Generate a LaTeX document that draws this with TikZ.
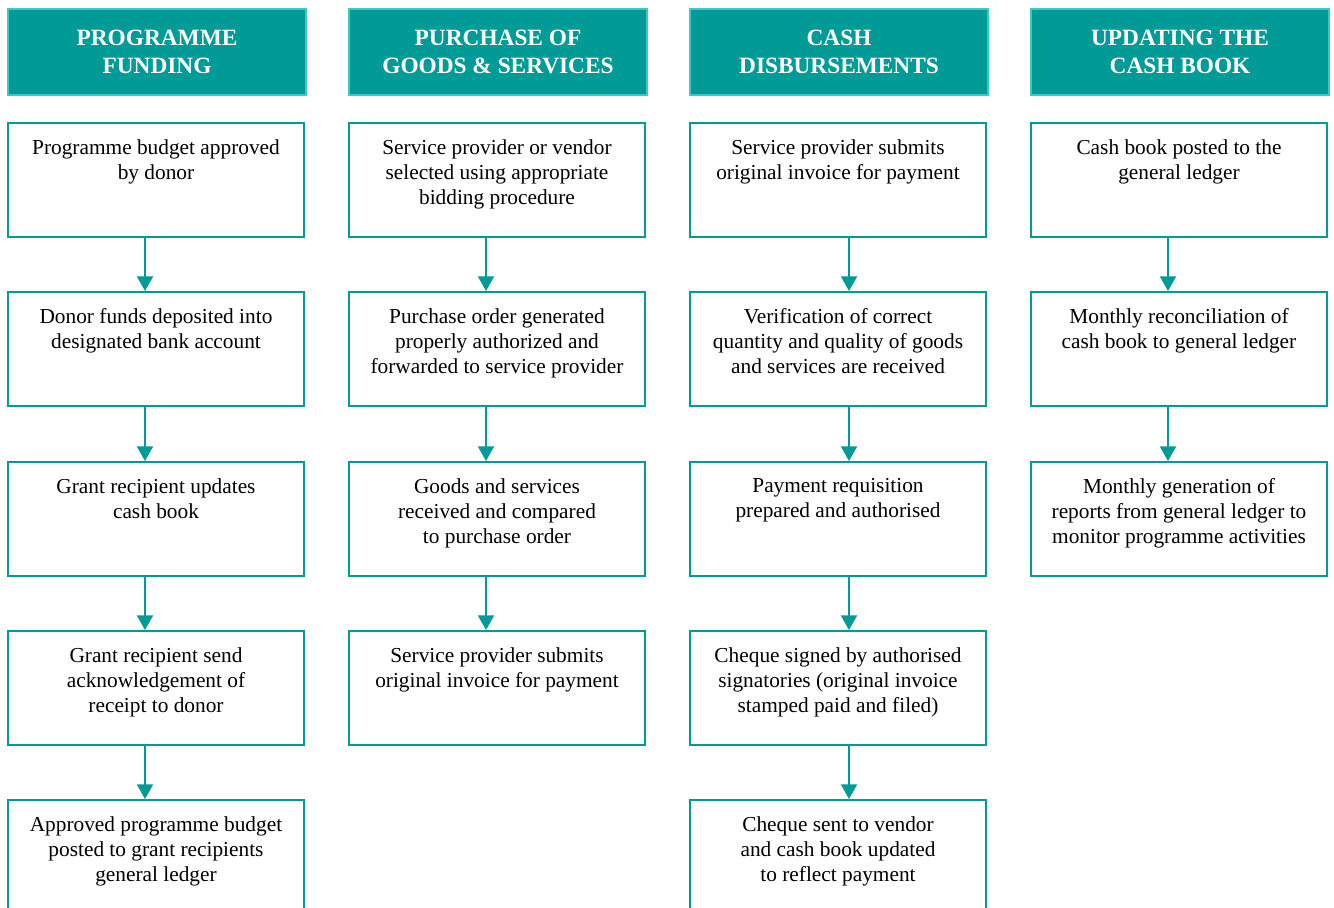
\documentclass[tikz,border=0pt]{standalone}
\usepackage{fontspec}
\setmainfont{Liberation Serif}
\usetikzlibrary{calc,arrows.meta}
\definecolor{flowteal}{HTML}{009A97}
\definecolor{headedge}{HTML}{3CC8C4}

\begin{document}
\begin{tikzpicture}[x=0.75pt,y=-0.75pt]
\tikzstyle{head}=[draw=headedge, fill=flowteal, line width=1pt, rectangle, minimum width=223.5pt, minimum height=64.5pt, align=center, text=white, font=\fontsize{17.5}{21}\selectfont\bfseries]
\tikzstyle{stepbox}=[draw=flowteal, fill=white, line width=1.5pt, rectangle, minimum width=222pt, minimum height=85.5pt, inner sep=0pt]
\tikzstyle{txt}=[below, align=center, inner sep=0pt, font=\fontsize{16}{18.75}\selectfont]
\tikzstyle{link}=[draw=flowteal, line width=1.5pt, -{Triangle[width=12pt,length=11pt]}]

\clip (0,0) rectangle (1334,907);

% column headers
\node[head] (hfund) at (157,52) {PROGRAMME\\FUNDING};
\node[head] (hbuy) at (498,52) {PURCHASE OF\\GOODS \& SERVICES};
\node[head] (hpay) at (839,52) {CASH\\DISBURSEMENTS};
\node[head] (hbook) at (1180,52) {UPDATING THE\\CASH BOOK};

% programme funding
\node[stepbox] (fund1) at (156,180) {};
\node[txt] (fund1t) at ($(fund1.north)+(0,17)$) {Programme budget approved\\by donor};
\node[stepbox] (fund2) at (156,349) {};
\node[txt] (fund2t) at ($(fund2.north)+(0,17)$) {Donor funds deposited into\\designated bank account};
\node[stepbox] (fund3) at (156,519) {};
\node[txt] (fund3t) at ($(fund3.north)+(0,17)$) {Grant recipient updates\\cash book};
\node[stepbox] (fund4) at (156,688) {};
\node[txt] (fund4t) at ($(fund4.north)+(0,17)$) {Grant recipient send\\acknowledgement of\\receipt to donor};
\node[stepbox] (fund5) at (156,857) {};
\node[txt] (fund5t) at ($(fund5.north)+(0,17)$) {Approved programme budget\\posted to grant recipients\\general ledger};

% purchase of goods and services
\node[stepbox] (buy1) at (497,180) {};
\node[txt] (buy1t) at ($(buy1.north)+(0,17)$) {Service provider or vendor\\selected using appropriate\\bidding procedure};
\node[stepbox] (buy2) at (497,349) {};
\node[txt] (buy2t) at ($(buy2.north)+(0,17)$) {Purchase order generated\\properly authorized and\\forwarded to service provider};
\node[stepbox] (buy3) at (497,519) {};
\node[txt] (buy3t) at ($(buy3.north)+(0,17)$) {Goods and services\\received and compared\\to purchase order};
\node[stepbox] (buy4) at (497,688) {};
\node[txt] (buy4t) at ($(buy4.north)+(0,17)$) {Service provider submits\\original invoice for payment};

% cash disbursements
\node[stepbox] (pay1) at (838,180) {};
\node[txt] (pay1t) at ($(pay1.north)+(0,17)$) {Service provider submits\\original invoice for payment};
\node[stepbox] (pay2) at (838,349) {};
\node[txt] (pay2t) at ($(pay2.north)+(0,17)$) {Verification of correct\\quantity and quality of goods\\and services are received};
\node[stepbox] (pay3) at (838,519) {};
\node[txt] (pay3t) at ($(pay3.north)+(0,17)$) {Payment requisition\\prepared and authorised};
\node[stepbox] (pay4) at (838,688) {};
\node[txt] (pay4t) at ($(pay4.north)+(0,17)$) {Cheque signed by authorised\\signatories (original invoice\\stamped paid and filed)};
\node[stepbox] (pay5) at (838,857) {};
\node[txt] (pay5t) at ($(pay5.north)+(0,17)$) {Cheque sent to vendor\\and cash book updated\\to reflect payment};

% updating the cash book
\node[stepbox] (book1) at (1179,180) {};
\node[txt] (book1t) at ($(book1.north)+(0,17)$) {Cash book posted to the\\general ledger};
\node[stepbox] (book2) at (1179,349) {};
\node[txt] (book2t) at ($(book2.north)+(0,17)$) {Monthly reconciliation of\\cash book to general ledger};
\node[stepbox] (book3) at (1179,519) {};
\node[txt] (book3t) at ($(book3.north)+(0,17)$) {Monthly generation of\\reports from general ledger to\\monitor programme activities};

% arrows between steps
\draw[link] ($(fund1.south)+(-11,0)$) -- ($(fund2.north)+(-11,0)$);
\draw[link] ($(fund2.south)+(-11,0)$) -- ($(fund3.north)+(-11,0)$);
\draw[link] ($(fund3.south)+(-11,0)$) -- ($(fund4.north)+(-11,0)$);
\draw[link] ($(fund4.south)+(-11,0)$) -- ($(fund5.north)+(-11,0)$);
\draw[link] ($(buy1.south)+(-11,0)$) -- ($(buy2.north)+(-11,0)$);
\draw[link] ($(buy2.south)+(-11,0)$) -- ($(buy3.north)+(-11,0)$);
\draw[link] ($(buy3.south)+(-11,0)$) -- ($(buy4.north)+(-11,0)$);
\draw[link] ($(pay1.south)+(11,0)$) -- ($(pay2.north)+(11,0)$);
\draw[link] ($(pay2.south)+(11,0)$) -- ($(pay3.north)+(11,0)$);
\draw[link] ($(pay3.south)+(11,0)$) -- ($(pay4.north)+(11,0)$);
\draw[link] ($(pay4.south)+(11,0)$) -- ($(pay5.north)+(11,0)$);
\draw[link] ($(book1.south)+(-11,0)$) -- ($(book2.north)+(-11,0)$);
\draw[link] ($(book2.south)+(-11,0)$) -- ($(book3.north)+(-11,0)$);

\end{tikzpicture}
\end{document}
